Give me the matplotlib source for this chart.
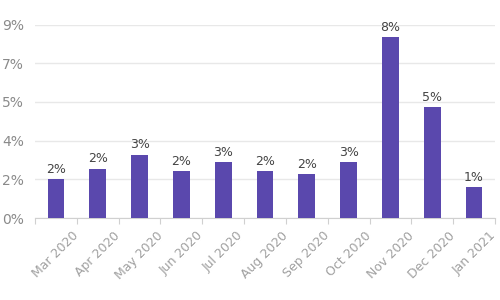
import numpy as np
import matplotlib.pyplot as plt
from matplotlib.ticker import FuncFormatter

# monthly share values (%)
months = ['Mar 2020', 'Apr 2020', 'May 2020', 'Jun 2020', 'Jul 2020', 'Aug 2020',
          'Sep 2020', 'Oct 2020', 'Nov 2020', 'Dec 2020', 'Jan 2021']
values = [1.8, 2.3, 2.95, 2.2, 2.6, 2.2, 2.05, 2.6, 8.4, 5.15, 1.45]
y_ticks = [0, 1.8, 3.6, 5.4, 7.2, 9.0]

fig = plt.figure(figsize=(5, 3), dpi=100)
ax = fig.add_axes([0.07, 0.273, 0.92, 0.645])

x = np.arange(len(months))
ax.bar(x, values, width=0.4, color='#5a48ad', zorder=3)

for xi, v in zip(x, values):
    ax.text(xi, v + 0.15, '{:.0f}%'.format(v), ha='center', va='bottom',
            fontsize=9, color='#444444', clip_on=False, zorder=4)

ax.set_xlim(-0.5, len(months) - 0.5)
ax.set_ylim(0, 9.0)
ax.set_yticks(y_ticks)
ax.yaxis.set_major_formatter(FuncFormatter(lambda v, p: '{:.0f}%'.format(v)))
ax.grid(axis='y', color='#e8e8e8', linewidth=1, zorder=0)

# ticks at category boundaries, labels at centres
ax.set_xticks(np.arange(-0.5, len(months)), minor=False)
ax.set_xticklabels([])
ax.set_xticks(x, minor=True)
ax.set_xticklabels(months, minor=True, rotation=45, ha='center',
                   fontsize=9, color='#a0a0a0')
ax.tick_params(axis='x', which='major', length=4, color='#d0d0d0')
ax.tick_params(axis='x', which='minor', length=0, pad=8)
ax.tick_params(axis='y', length=0, labelsize=10, colors='#8a8a8a', pad=8)

for s in ['top', 'right', 'left']:
    ax.spines[s].set_visible(False)
ax.spines['bottom'].set_color('#d0d0d0')

plt.savefig('out.png')
